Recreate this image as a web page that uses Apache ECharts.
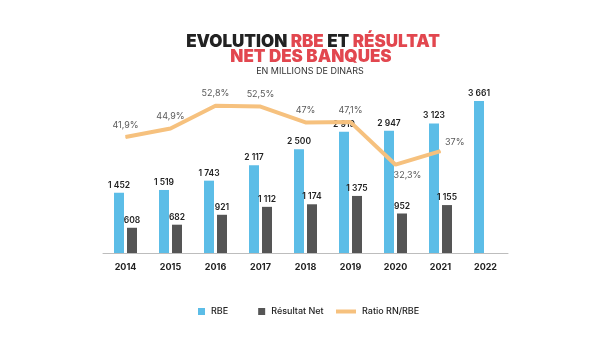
<!DOCTYPE html>
<html>
<head>
<meta charset="utf-8">
<script src="https://cdn.jsdelivr.net/npm/echarts@6/dist/echarts.min.js"></script>
<style>
  html, body { margin: 0; padding: 0; background: #ffffff; }
  #chart { width: 600px; height: 343px; }
</style>
</head>
<body>
<div id="chart"></div>
<script>
// Annual figures, millions of dinars
const years = ['2014', '2015', '2016', '2017', '2018', '2019', '2020', '2021', '2022'];
const rbe = [1452, 1519, 1743, 2117, 2500, 2919, 2947, 3123, 3661];
const resultatNet = [608, 682, 921, 1112, 1174, 1375, 952, 1155, null];
const ratio = [41.9, 44.9, 52.8, 52.5, 47, 47.1, 32.3, 37, null];

const FONT = 'Inter, "Noto Sans", sans-serif';
const RED = '#E2474F';
const INK = '#222222';

const fmtThousands = v => String(v).replace(/\B(?=(\d{3})+(?!\d))/g, ' ');
const fmtPct = v => String(v).replace('.', ',') + '%';

// per-point label placement for the ratio line
const ratioPoints = ratio.map((v, i) => {
  if (v == null) return null;
  if (years[i] === '2020') return { value: v, label: { position: 'bottom', distance: 6, offset: [12, 0] } };
  if (years[i] === '2021') return { value: v, label: { position: 'right', distance: 4, offset: [0, -9] } };
  return v;
});

const chart = echarts.init(document.getElementById('chart'), null, { renderer: 'canvas' });

chart.setOption({
  backgroundColor: '#ffffff',
  animation: false,
  title: [
    {
      text: '{k|EVOLUTION }{r|RBE}{k| ET }{r|RÉSULTAT}',
      left: 308, top: 28, textAlign: 'center',
      textStyle: {
        rich: {
          k: { fontFamily: FONT, fontSize: 17, fontWeight: 900, color: INK },
          r: { fontFamily: FONT, fontSize: 17, fontWeight: 900, color: RED }
        }
      }
    },
    {
      text: 'NET DES BANQUES',
      left: 306, top: 43, textAlign: 'center',
      textStyle: { fontFamily: FONT, fontSize: 17, fontWeight: 900, color: RED }
    },
    {
      text: 'EN MILLIONS DE DINARS',
      left: 305, top: 62, textAlign: 'center',
      textStyle: { fontFamily: FONT, fontSize: 9, fontWeight: 400, color: '#333333' }
    }
  ],
  legend: [
    {
      data: ['RBE', 'Résultat Net'],
      left: 193, top: 302,
      icon: 'rect', itemWidth: 7, itemHeight: 7, itemGap: 30,
      textStyle: { fontFamily: FONT, fontSize: 9, fontWeight: 500, color: INK, padding: [0, 0, 0, 1] }
    },
    {
      data: ['Ratio RN/RBE'],
      left: 331, top: 302,
      icon: 'rect', itemWidth: 20, itemHeight: 4,
      textStyle: { fontFamily: FONT, fontSize: 9, fontWeight: 500, color: INK, padding: [0, 0, 0, 1] }
    }
  ],
  grid: { left: 103, right: 92, top: 87, bottom: 90, containLabel: false },
  xAxis: {
    type: 'category',
    data: years,
    axisLine: { lineStyle: { color: '#bdbdbd', width: 1 } },
    axisTick: { show: false },
    axisLabel: { fontFamily: FONT, fontSize: 9, fontWeight: 700, color: INK, margin: 10 }
  },
  yAxis: [
    { type: 'value', min: 0, max: 4000, show: false, splitLine: { show: false } },
    { type: 'value', min: 1.6, max: 59.3, show: false, splitLine: { show: false } }
  ],
  series: [
    {
      name: 'RBE',
      type: 'bar',
      data: rbe,
      barWidth: 10,
      barGap: '30%',
      itemStyle: { color: '#5CBDE7' },
      label: {
        show: true, position: 'top', distance: 3,
        fontFamily: FONT, fontSize: 8.5, fontWeight: 600, color: INK,
        formatter: p => fmtThousands(p.value)
      }
    },
    {
      name: 'Résultat Net',
      type: 'bar',
      data: resultatNet,
      barWidth: 10,
      itemStyle: { color: '#555555' },
      label: {
        show: true, position: 'top', distance: 3,
        fontFamily: FONT, fontSize: 8.5, fontWeight: 600, color: INK,
        formatter: p => fmtThousands(p.value)
      }
    },
    {
      name: 'Ratio RN/RBE',
      type: 'line',
      yAxisIndex: 1,
      data: ratioPoints,
      z: 5,
      showSymbol: true,
      symbol: 'circle',
      symbolSize: 1,
      lineStyle: { color: '#F6C17E', width: 4 },
      itemStyle: { color: '#F6C17E' },
      label: {
        show: true, position: 'top', distance: 7,
        fontFamily: FONT, fontSize: 9, fontWeight: 400, color: '#5a5a5a',
        formatter: p => fmtPct(p.value)
      }
    }
  ]
});
</script>
</body>
</html>
